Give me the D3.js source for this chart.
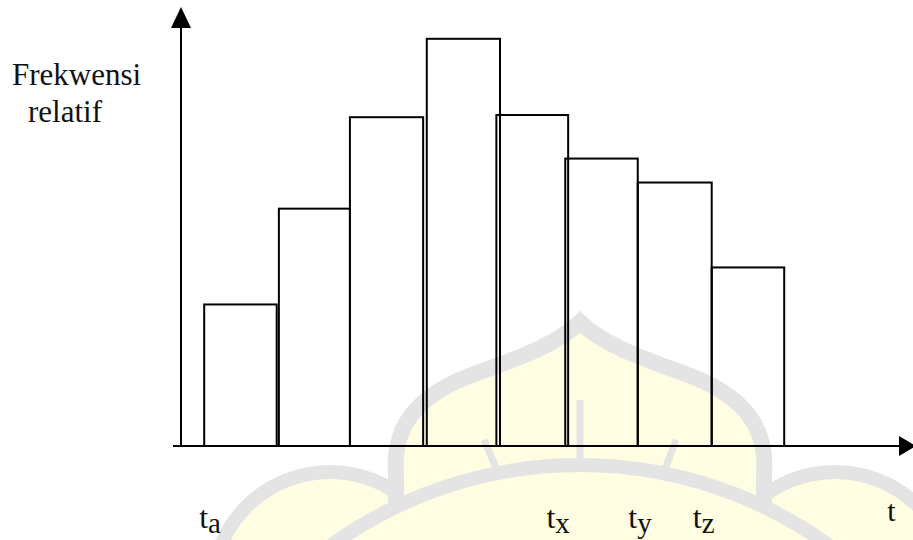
<!DOCTYPE html>
<html>
<head>
<meta charset="utf-8">
<script src="https://cdn.jsdelivr.net/npm/d3@7"></script>
<style>
  html, body { margin: 0; padding: 0; background: #ffffff; }
  svg { display: block; }
  .serif { font-family: "Liberation Serif", "Times New Roman", Times, "DejaVu Serif", serif; }
</style>
</head>
<body>
<svg id="chart" width="913" height="540"></svg>
<script>
// ---- data ----
const binStart = [0.32, 1.35, 2.33, 3.39, 4.35, 5.30, 6.30, 7.32];
const binEnd   = [1.32, 2.33, 3.34, 4.40, 5.34, 6.30, 7.32, 8.32];
const relFreq  = [0.065, 0.109, 0.151, 0.187, 0.152, 0.132, 0.121, 0.082];
const tickNames = ["t", "t", "t", "t", "t"];
const tickSubs  = ["a", "x", "y", "z", ""];
const tickPos   = [0.25, 5.04, 6.17, 7.06, 9.74];
const yTitle = ["Frekwensi", "relatif"];

const svg = d3.select("#chart");

// ---- faint watermark (background) ----
const wm = svg.append("g").attr("class", "watermark");
const gray = "#e4e4e4", pale = "#fffde2";
wm.append("circle").attr("cx", 330).attr("cy", 590).attr("r", 118)
  .attr("fill", pale).attr("stroke", gray).attr("stroke-width", 14);
wm.append("circle").attr("cx", 835).attr("cy", 590).attr("r", 118)
  .attr("fill", pale).attr("stroke", gray).attr("stroke-width", 14);
wm.append("path")
  .attr("d", "M580,322 C560,342 525,356 480,372 C415,394 392,428 396,475 L396,560 L764,560 L764,475 C768,428 745,394 680,372 C635,356 600,342 580,322 Z")
  .attr("fill", pale).attr("stroke", gray).attr("stroke-width", 16);
wm.append("circle").attr("cx", 580).attr("cy", 890).attr("r", 425)
  .attr("fill", pale).attr("stroke", gray).attr("stroke-width", 14);
wm.append("line").attr("x1", 580).attr("y1", 400).attr("x2", 580).attr("y2", 458)
  .attr("stroke", gray).attr("stroke-width", 7);
wm.append("line").attr("x1", 484).attr("y1", 440).attr("x2", 498).attr("y2", 472)
  .attr("stroke", gray).attr("stroke-width", 7);
wm.append("line").attr("x1", 676).attr("y1", 440).attr("x2", 664).attr("y2", 472)
  .attr("stroke", gray).attr("stroke-width", 7);

// ---- scales ----
const x = d3.scaleLinear().domain([0, 10]).range([181, 906]);
const y = d3.scaleLinear().domain([0, 0.2]).range([446, 10.5]);

const chart = svg.append("g");

// bars (outline only)
chart.selectAll("rect.bar")
  .data(relFreq)
  .join("rect")
  .attr("class", "bar")
  .attr("x", (d, i) => x(binStart[i]))
  .attr("width", (d, i) => x(binEnd[i]) - x(binStart[i]))
  .attr("y", d => y(d))
  .attr("height", d => y(0) - y(d))
  .attr("fill", "none")
  .attr("stroke", "#000")
  .attr("stroke-width", 2);

// axes
const x0 = x(0), yBase = y(0);
chart.append("line")
  .attr("x1", x0 - 8).attr("y1", yBase).attr("x2", 902).attr("y2", yBase)
  .attr("stroke", "#000").attr("stroke-width", 2);
chart.append("line")
  .attr("x1", x0).attr("y1", yBase + 1).attr("x2", x0).attr("y2", 24)
  .attr("stroke", "#000").attr("stroke-width", 2);
chart.append("path")
  .attr("d", `M${x0},7 L${x0 + 10},28 L${x0 - 10},28 Z`).attr("fill", "#000");
chart.append("path")
  .attr("d", `M916,${yBase} L899,${yBase - 10} L899,${yBase + 10} Z`).attr("fill", "#000");

// y title
chart.append("text").attr("class", "serif").attr("x", 12).attr("y", 85)
  .style("font-size", "31px").style("fill", "#111").text(yTitle[0]);
chart.append("text").attr("class", "serif").attr("x", 28).attr("y", 121.5)
  .style("font-size", "31px").style("fill", "#111").text(yTitle[1]);

// t labels
tickNames.forEach((nm, i) => {
  const last = tickSubs[i] === "";
  const t = chart.append("text")
    .attr("class", "serif")
    .attr("x", x(tickPos[i]))
    .attr("y", last ? 521 : 528)
    .style("font-size", last ? "30px" : "32px")
    .style("fill", "#111")
    .text(nm);
  if (!last) {
    t.append("tspan").attr("dy", 5).style("font-size", "29px").text(tickSubs[i]);
  }
});
</script>
</body>
</html>
